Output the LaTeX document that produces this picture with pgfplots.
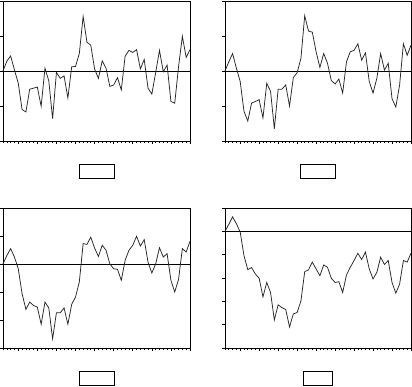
\documentclass[border=0pt]{standalone}
\usepackage{pgfplots}
\usepackage{pgfplotstable}
\pgfplotsset{compat=1.18}
\pgfplotstableread{
v1 v2 v3 v4
0.00 0.00 0.00 0.00
0.28 0.26 0.30 0.30
0.43 0.50 0.55 0.62
0.03 0.08 0.25 0.33
-0.35 -0.30 -0.17 -0.03
-1.10 -1.15 -1.06 -1.04
-1.17 -1.43 -1.62 -1.64
-0.52 -0.92 -1.36 -1.55
-0.49 -0.87 -1.48 -1.83
-0.46 -0.82 -1.54 -2.01
-1.01 -1.34 -2.15 -2.81
0.08 -0.35 -1.36 -2.19
-0.28 -0.58 -1.57 -2.62
-1.36 -1.65 -2.67 -3.80
-0.04 -0.52 -1.74 -3.15
-0.21 -0.52 -1.74 -3.27
-0.14 -0.40 -1.57 -3.35
-0.77 -1.00 -2.15 -4.10
0.12 -0.19 -1.44 -3.54
0.13 -0.05 -1.18 -3.48
0.50 0.36 -0.64 -2.98
1.56 1.58 0.73 -1.73
0.82 1.14 0.70 -1.65
0.74 1.11 0.96 -1.32
0.06 0.55 0.57 -1.61
-0.21 0.10 0.27 -1.90
0.29 0.50 0.67 -1.44
0.08 0.22 0.49 -1.54
-0.44 -0.27 0.00 -2.01
-0.40 -0.37 -0.17 -2.19
-0.19 -0.23 -0.19 -2.16
-0.54 -0.63 -0.58 -2.62
0.42 0.26 0.13 -1.87
0.59 0.55 0.49 -1.54
0.53 0.59 0.67 -1.25
0.61 0.78 0.99 -0.94
0.06 0.31 0.64 -1.21
0.33 0.52 0.87 -0.89
-0.49 -0.30 0.07 -1.61
-0.66 -0.63 -0.32 -2.04
-0.05 -0.21 0.00 -1.76
0.59 0.50 0.58 -1.11
-0.02 0.03 0.25 -1.42
0.17 0.22 0.37 -1.25
-0.87 -0.79 -0.58 -2.19
-0.92 -1.03 -1.00 -2.65
0.12 -0.40 -0.55 -2.26
0.99 0.78 0.55 -1.25
0.39 0.45 0.43 -1.32
0.61 0.74 0.81 -0.94
}\datatable
\begin{document}
\begin{tikzpicture}
\useasboundingbox (0pt,0pt) rectangle (412pt,386pt);
\pgfplotsset{panel/.style={
  scale only axis, width=187pt, height=140pt,
  xmin=0, xmax=49, clip=false,
  axis line style={line width=0.8pt},
  xtick={4,9,...,49}, minor xtick={0,...,49},
  xticklabels={}, yticklabels={},
  tick align=outside, tick pos=left,
  major tick length=3pt, minor tick length=2pt,
  every tick/.style={black, line width=0.6pt},
  anchor=south west}}
\pgfplotsset{dline/.style={black!85, line width=0.75pt, no marks}}
\newcommand{\legbox}[1]{\node[draw, line width=0.7pt, fill=white, minimum width=#1, minimum height=14pt, inner sep=0pt] at (axis description cs:0.5,-0.214) {};}

\begin{axis}[panel, at={(3pt,245pt)}, ymin=-2, ymax=2, ytick={-2,-1,0,1,2}]
\addplot[black, line width=0.8pt] coordinates {(0,0) (49,0)};
\addplot[dline] table[x expr=\coordindex, y=v1] {\datatable};
\legbox{35pt}
\end{axis}

\begin{axis}[panel, width=186pt, at={(225pt,245pt)}, ymin=-2, ymax=2, ytick={-2,-1,0,1,2}]
\addplot[black, line width=0.8pt] coordinates {(0,0) (49,0)};
\addplot[dline] table[x expr=\coordindex, y=v2] {\datatable};
\legbox{35pt}
\end{axis}

\begin{axis}[panel, at={(3pt,38pt)}, ymin=-3, ymax=2, ytick={-3,-2,-1,0,1,2}]
\addplot[black, line width=0.8pt] coordinates {(0,0) (49,0)};
\addplot[dline] table[x expr=\coordindex, y=v3] {\datatable};
\legbox{35pt}
\end{axis}

\begin{axis}[panel, width=186pt, at={(225pt,38pt)}, ymin=-5, ymax=1, ytick={-5,-4,-3,-2,-1,0,1}]
\addplot[black, line width=0.8pt] coordinates {(0,0) (49,0)};
\addplot[dline] table[x expr=\coordindex, y=v4] {\datatable};
\legbox{29pt}
\end{axis}
\end{tikzpicture}
\end{document}
